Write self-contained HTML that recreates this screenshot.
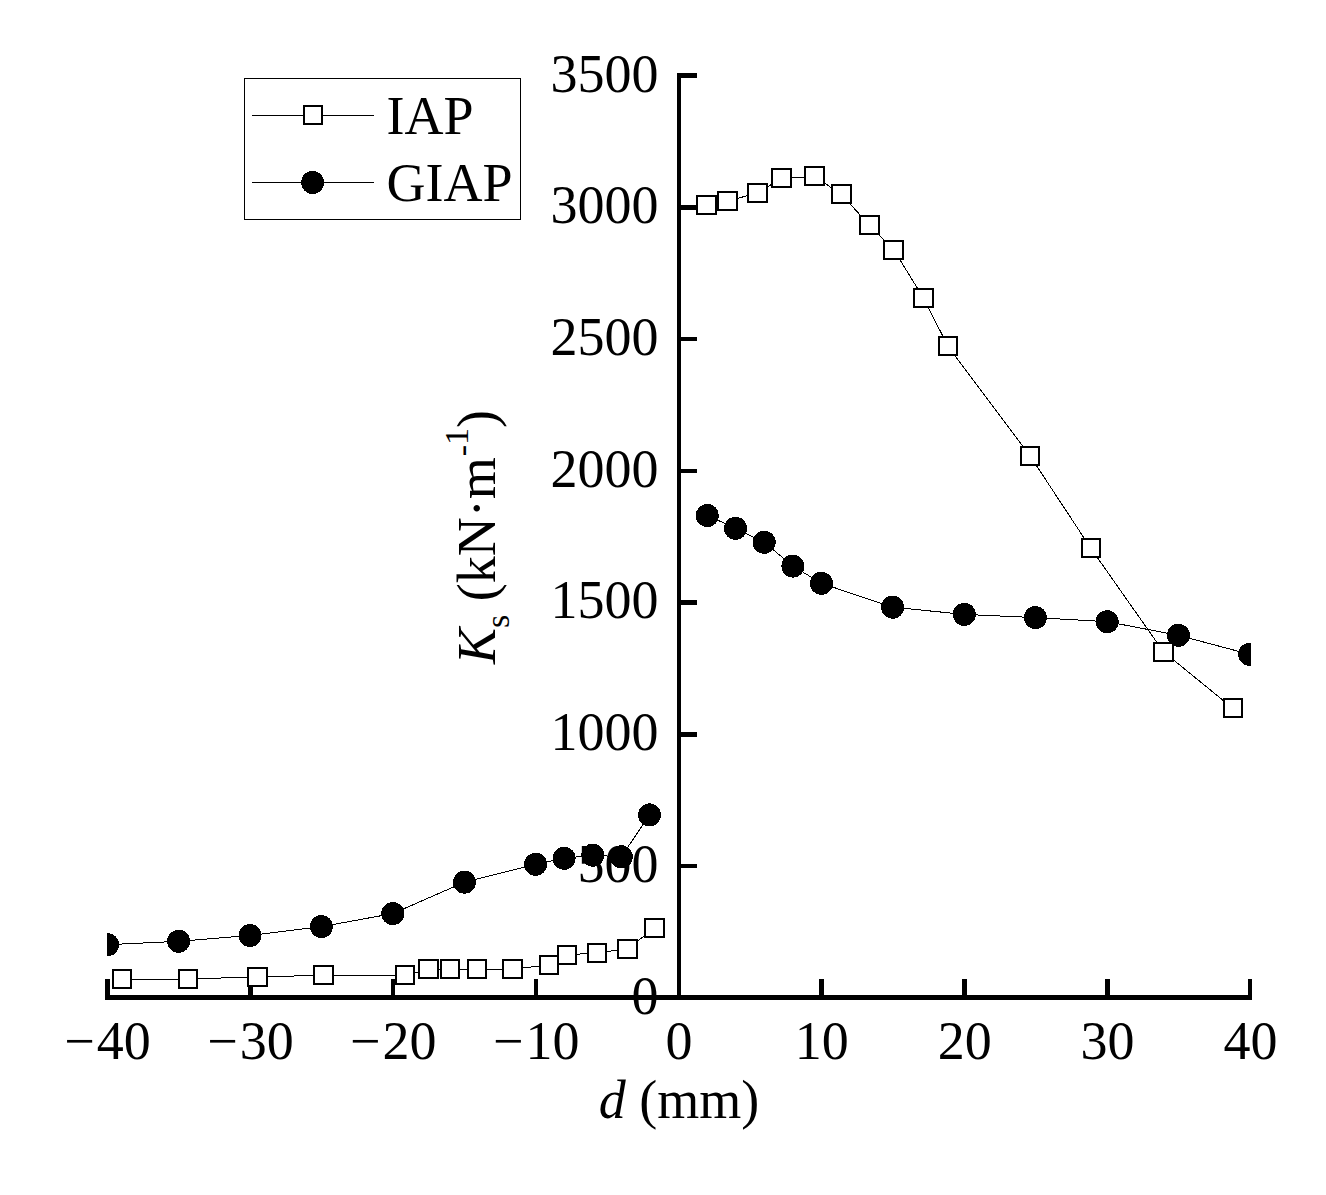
<!DOCTYPE html>
<html lang="en">
<head>
<meta charset="utf-8">
<title>Ks versus d</title>
<style>
html,body{margin:0;padding:0;background:#fff;}
body{width:1326px;height:1195px;overflow:hidden;}
svg{display:block;}
text{font-family:"Liberation Serif","Times New Roman",serif;fill:#000;}
</style>
</head>
<body>
<svg width="1326" height="1195" viewBox="0 0 1326 1195" shape-rendering="crispEdges">
<rect x="0" y="0" width="1326" height="1195" fill="#fff"/>
<defs><clipPath id="plot"><rect x="107" y="60" width="1144" height="940"/></clipPath></defs>

<g font-size="54" text-anchor="end">
<text x="658.5" y="1013.5">0</text>
<text x="658.5" y="881.8">500</text>
<text x="658.5" y="750.1">1000</text>
<text x="658.5" y="618.4">1500</text>
<text x="658.5" y="486.6">2000</text>
<text x="658.5" y="354.9">2500</text>
<text x="658.5" y="223.2">3000</text>
<text x="658.5" y="91.5">3500</text>
</g>
<g font-size="54" text-anchor="middle">
<text x="107.6" y="1058.5">−<tspan dx="2">40</tspan></text>
<text x="250.5" y="1058.5">−<tspan dx="2">30</tspan></text>
<text x="393.3" y="1058.5">−<tspan dx="2">20</tspan></text>
<text x="536.2" y="1058.5">−<tspan dx="2">10</tspan></text>
<text x="679.0" y="1058.5">0</text>
<text x="821.8" y="1058.5">10</text>
<text x="964.7" y="1058.5">20</text>
<text x="1107.5" y="1058.5">30</text>
<text x="1250.4" y="1058.5">40</text>
</g>
<text x="679" y="1118" font-size="54" text-anchor="middle"><tspan font-style="italic">d</tspan> (mm)</text>
<text transform="translate(494.5,537) rotate(-90)" font-size="54" text-anchor="middle"><tspan font-style="italic">K</tspan><tspan font-size="34" dy="14">s</tspan><tspan dy="-14"> (kN·m</tspan><tspan font-size="34" dy="-22" dx="1">-</tspan><tspan font-size="34" dy="-4.5">1</tspan><tspan dy="26.5">)</tspan></text>
<g fill="#000">
<rect x="105" y="995" width="1147" height="5"/>
<rect x="677" y="73" width="4" height="927"/>
<rect x="105" y="979" width="5" height="21"/>
<rect x="248" y="979" width="5" height="21"/>
<rect x="391" y="979" width="4" height="21"/>
<rect x="534" y="979" width="4" height="21"/>
<rect x="819" y="979" width="5" height="21"/>
<rect x="962" y="979" width="5" height="21"/>
<rect x="1105" y="979" width="5" height="21"/>
<rect x="1248" y="979" width="4" height="21"/>
<rect x="677" y="73" width="20" height="5"/>
<rect x="677" y="205" width="20" height="5"/>
<rect x="677" y="337" width="20" height="4"/>
<rect x="677" y="469" width="20" height="4"/>
<rect x="677" y="600" width="20" height="5"/>
<rect x="677" y="732" width="20" height="5"/>
<rect x="677" y="864" width="20" height="4"/>
</g>
<g clip-path="url(#plot)">
<g stroke="#000" stroke-width="1.0" fill="none">
<polyline points="121.9,979.0 188.0,979.0 257.6,976.9 323.6,975.3 404.9,975.3 428.6,969.2 450.0,969.2 477.0,969.2 512.7,969.2 548.9,964.8 567.0,954.9 597.0,952.9 627.6,948.8 654.3,928.2"/>
<polyline points="706.5,204.9 727.5,201.0 757.6,193.0 781.6,178.3 814.6,176.4 841.5,194.5 869.3,225.0 893.6,249.5 923.4,297.9 948.1,346.5 1029.8,455.5 1090.9,548.4 1163.5,651.8 1233.0,708.4"/>
<polyline points="107.6,944.7 178.6,941.3 250.0,935.5 321.4,926.6 392.8,913.6 464.5,882.2 535.6,864.3 564.1,858.3 592.8,855.2 621.3,856.8 649.5,814.9"/>
<polyline points="707.3,515.5 735.5,528.3 764.2,542.3 792.9,566.1 821.4,583.3 892.6,607.2 964.3,614.4 1035.4,617.6 1107.2,621.7 1178.4,635.3 1249.7,654.3"/>
</g>
<g stroke="#000" stroke-width="2" fill="#fff">
<rect x="113" y="970" width="18" height="18"/>
<rect x="179" y="970" width="18" height="18"/>
<rect x="248" y="968" width="19" height="18"/>
<rect x="314" y="966" width="19" height="18"/>
<rect x="396" y="966" width="18" height="18"/>
<rect x="419" y="960" width="19" height="18"/>
<rect x="441" y="960" width="18" height="18"/>
<rect x="468" y="960" width="18" height="18"/>
<rect x="503" y="960" width="19" height="18"/>
<rect x="540" y="956" width="18" height="18"/>
<rect x="558" y="946" width="18" height="18"/>
<rect x="588" y="944" width="18" height="18"/>
<rect x="618" y="940" width="19" height="18"/>
<rect x="645" y="919" width="19" height="18"/>
<rect x="697" y="196" width="19" height="18"/>
<rect x="718" y="192" width="19" height="18"/>
<rect x="748" y="184" width="19" height="18"/>
<rect x="772" y="169" width="19" height="18"/>
<rect x="805" y="167" width="19" height="18"/>
<rect x="832" y="185" width="19" height="18"/>
<rect x="860" y="216" width="19" height="18"/>
<rect x="884" y="241" width="19" height="18"/>
<rect x="914" y="289" width="19" height="18"/>
<rect x="939" y="337" width="18" height="18"/>
<rect x="1021" y="447" width="18" height="18"/>
<rect x="1082" y="539" width="18" height="18"/>
<rect x="1154" y="643" width="19" height="18"/>
<rect x="1224" y="699" width="18" height="18"/>
</g>
<g fill="#000">
<circle cx="107.6" cy="944.7" r="11.5"/>
<circle cx="178.6" cy="941.3" r="11.5"/>
<circle cx="250.0" cy="935.5" r="11.5"/>
<circle cx="321.4" cy="926.6" r="11.5"/>
<circle cx="392.8" cy="913.6" r="11.5"/>
<circle cx="464.5" cy="882.2" r="11.5"/>
<circle cx="535.6" cy="864.3" r="11.5"/>
<circle cx="564.1" cy="858.3" r="11.5"/>
<circle cx="592.8" cy="855.2" r="11.5"/>
<circle cx="621.3" cy="856.8" r="11.5"/>
<circle cx="649.5" cy="814.9" r="11.5"/>
<circle cx="707.3" cy="515.5" r="11.5"/>
<circle cx="735.5" cy="528.3" r="11.5"/>
<circle cx="764.2" cy="542.3" r="11.5"/>
<circle cx="792.9" cy="566.1" r="11.5"/>
<circle cx="821.4" cy="583.3" r="11.5"/>
<circle cx="892.6" cy="607.2" r="11.5"/>
<circle cx="964.3" cy="614.4" r="11.5"/>
<circle cx="1035.4" cy="617.6" r="11.5"/>
<circle cx="1107.2" cy="621.7" r="11.5"/>
<circle cx="1178.4" cy="635.3" r="11.5"/>
<circle cx="1249.7" cy="654.3" r="11.5"/>
</g>
</g>
<rect x="244.5" y="78.5" width="276" height="141" fill="#fff" stroke="#000" stroke-width="1"/>
<g stroke="#000" stroke-width="1"><line x1="252" y1="115.5" x2="374" y2="115.5"/><line x1="252" y1="182.5" x2="374" y2="182.5"/></g>
<rect x="304" y="106" width="18" height="18" fill="#fff" stroke="#000" stroke-width="2"/>
<circle cx="312.6" cy="182.5" r="11.5" fill="#000"/>
<g font-size="54"><text x="386.5" y="134.3">IAP</text><text x="386.5" y="201.4">GIAP</text></g>
</svg>
</body>
</html>
